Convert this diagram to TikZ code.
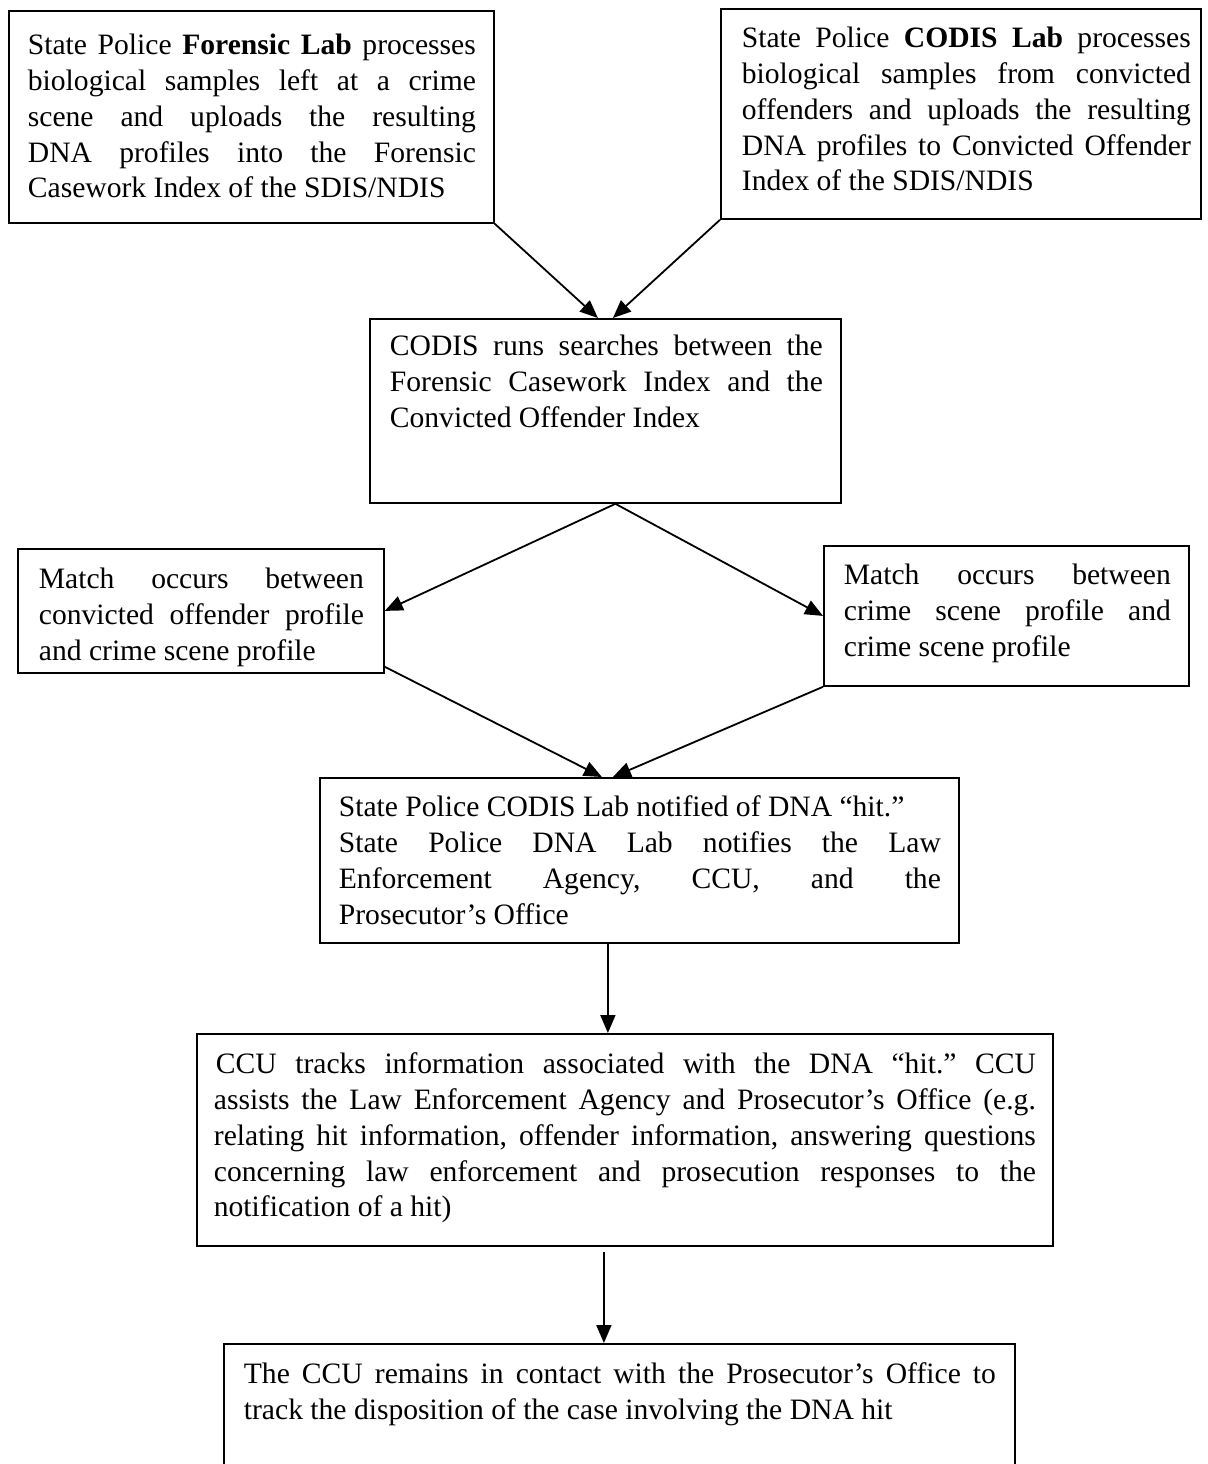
\documentclass[tikz,border=0pt]{standalone}
\usepackage{fontspec}
\setmainfont{Liberation Serif}
\usetikzlibrary{arrows.meta}
\newcommand\jline[1]{\hbox to \hsize{#1}}
\newcommand\lastl[1]{\hbox{#1}}
\newcommand\firstrl{\rule{0pt}{12pt}}
\newcommand\boxt[6]{\parbox[c][#2][t]{#1}{\vspace*{#3}\hbox to #1{\hspace*{#4}\vtop{\hsize=#5\relax #6}\hfil}}}
\hbadness=10000
\begin{document}
\begin{tikzpicture}[x=0.5pt,y=-0.5pt,
  box/.style={draw, line width=0.9pt, inner sep=0pt, anchor=north west,
    font=\fontsize{14.8}{17.85}\selectfont\frenchspacing},
  arr/.style={line width=0.9pt, -{Triangle[length=9pt,width=7.5pt]}}]
\useasboundingbox (0,0) rectangle (1208,1464);
\clip (0,0) rectangle (1208,1464);
\fill[white] (0,0) rectangle (1208,1464);

\node[box] (b1) at (8,10) {\boxt{242.5pt}{106pt}{10pt}{9.5pt}{224pt}{%
\jline{\firstrl State Police \textbf{Forensic Lab} processes}
\jline{biological samples left at a crime}
\jline{scene and uploads the resulting}
\jline{DNA profiles into the Forensic}
\lastl{Casework Index of the SDIS/NDIS}}};

\node[box] (b2) at (720,8) {\boxt{240pt}{105pt}{7.5pt}{10.5pt}{224.5pt}{%
\jline{\firstrl State Police \textbf{CODIS Lab} processes}
\jline{biological samples from convicted}
\jline{offenders and uploads the resulting}
\jline{DNA profiles to Convicted Offender}
\lastl{Index of the SDIS/NDIS}}};

\node[box] (b3) at (369,318) {\boxt{235.5pt}{92pt}{6.5pt}{10pt}{216.5pt}{%
\jline{\firstrl CODIS runs searches between the}
\jline{Forensic Casework Index and the}
\lastl{Convicted Offender Index}}};

\node[box] (b4) at (17,548) {\boxt{183pt}{62pt}{8pt}{10.5pt}{162.5pt}{%
\jline{\firstrl Match occurs between}
\jline{convicted offender profile}
\lastl{and crime scene profile}}};

\node[box] (b5) at (823,545) {\boxt{182.5pt}{70pt}{7.5pt}{10pt}{163.5pt}{%
\jline{\firstrl Match occurs between}
\jline{crime scene profile and}
\lastl{crime scene profile}}};

\node[box] (b6) at (319,777) {\boxt{319.5pt}{82.5pt}{7.5pt}{9.5pt}{301pt}{%
\lastl{\firstrl State Police CODIS Lab notified of DNA “hit.”}
\jline{State Police DNA Lab notifies the Law}
\jline{Enforcement Agency, CCU, and the}
\lastl{Prosecutor’s Office}}};

\node[box] (b7) at (196,1033) {\boxt{428pt}{106pt}{8pt}{8.5pt}{411pt}{%
\jline{\firstrl\hspace*{1pt}CCU tracks information associated with the DNA “hit.” CCU}
\jline{assists the Law Enforcement Agency and Prosecutor’s Office (e.g.}
\jline{relating hit information, offender information, answering questions}
\jline{concerning law enforcement and prosecution responses to the}
\lastl{notification of a hit)}}};

\node[box] (b8) at (223,1343) {\boxt{395.5pt}{70pt}{8pt}{10pt}{376pt}{%
\jline{\firstrl The CCU remains in contact with the Prosecutor’s Office to}
\lastl{track the disposition of the case involving the DNA hit}}};

\draw[arr] (b1.south east) -- ([xshift=-3.75pt]b3.north);
\draw[arr] (b2.south west) -- ([xshift=3.75pt]b3.north);
\draw[arr] ([xshift=5pt]b3.south) -- (b4.east);
\draw[arr] ([xshift=5pt]b3.south) -- (b5.west);
\draw[arr] ([yshift=3.5pt]b4.south east) -- ([xshift=-18.75pt]b6.north);
\draw[arr] (b5.south west) -- ([xshift=-13.25pt]b6.north);
\draw[arr] ([xshift=-15.75pt]b6.south) -- ([xshift=-8.5pt]b7.north);
\coordinate (c8) at ([xshift=-10.5pt,yshift=-2.5pt]b7.south);
\draw[arr] (c8) -- ([xshift=-7.75pt]b8.north);
\end{tikzpicture}
\end{document}
